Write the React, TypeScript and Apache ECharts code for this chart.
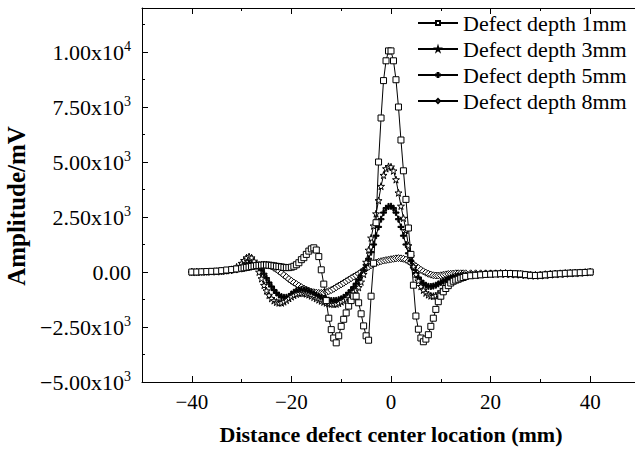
import React, { useEffect, useRef } from "react";
import * as echarts from "echarts";

// Distance from defect center (mm)
const distance = [
  -40, -39, -38, -37, -36, -35, -34, -33, -32, -31,
  -30, -29.5, -29, -28.5, -28, -27.5, -27, -26.5, -26, -25.5,
  -25, -24.5, -24, -23.5, -23, -22.5, -22, -21.5, -21, -20.5,
  -20, -19.5, -19, -18.5, -18, -17.5, -17, -16.5, -16, -15.5,
  -15, -14.5, -14, -13.5, -13, -12.5, -12, -11.5, -11, -10.5,
  -10, -9.5, -9, -8.5, -8, -7.5, -7, -6.5, -6, -5.5,
  -5, -4.5, -4, -3.5, -3, -2.5, -2, -1.5, -1, -0.5,
  0, 0.5, 1, 1.5, 2, 2.5, 3, 3.5, 4, 4.5,
  5, 5.5, 6, 6.5, 7, 7.5, 8, 8.5, 9, 9.5,
  10, 10.5, 11, 11.5, 12, 12.5, 13, 13.5, 14, 14.5,
  15, 16, 17, 18, 19, 20, 21, 22, 23, 24, 25, 26, 27, 28, 29, 30,
  31, 32, 33, 34, 35, 36, 37, 38, 39, 40,
];

const depth1mm = [
  0, 0, 10, 20, 30, 40, 60, 90, 110, 140,
  170, 190, 210, 230, 250, 270, 290, 300, 310, 320,
  320, 310, 300, 280, 260, 250, 230, 210, 200, 200,
  220, 260, 330, 420, 560, 650, 800, 950, 1050, 1100,
  1000, 700, 100, -550, -1300, -2100, -2620, -3000, -3220, -2900,
  -2470, -2150, -1860, -1550, -1300, -1100, -1100, -1400, -1900, -2450,
  -2900, -3100, -1100, 400, 2240, 5000, 7000, 8700, 9600, 10050,
  10050, 9600, 8740, 7500, 6000, 4600, 3300, 2000, 800, -600,
  -2000, -2600, -3000, -3170, -3050, -2850, -2470, -2100, -1700, -1350,
  -1100, -900, -750, -620, -500, -420, -370, -330, -280, -250,
  -200, -170, -150, -130, -110, -100, -90, -80, -70, -70, -80, -90, -120, -150, -160, -150,
  -130, -110, -90, -80, -60, -50, -40, -30, -20, 0,
];

const depth3mm = [
  0, 0, 10, 10, 20, 20, 40, 70, 120, 230,
  400, 530, 650, 700, 650, 500, 300, 0, -300, -600,
  -850, -1050, -1200, -1300, -1370, -1400, -1400, -1350, -1280, -1200,
  -1120, -1050, -1000, -960, -950, -960, -990, -1030, -1080, -1140,
  -1200, -1260, -1310, -1360, -1400, -1430, -1450, -1460, -1450, -1420,
  -1350, -1300, -1220, -1120, -1000, -900, -820, -700, -450, -100,
  450, 1000, 1550, 2100, 2650, 3250, 3900, 4400, 4700, 4800,
  4780, 4600, 4200, 3600, 3000, 2450, 1900, 1200, 700, 250,
  -100, -400, -650, -820, -950, -1030, -1080, -1100, -1080, -1000,
  -900, -780, -660, -550, -450, -370, -310, -260, -220, -190,
  -170, -150, -130, -110, -100, -90, -80, -80, -90, -100, -110, -120, -140, -160, -170, -160,
  -140, -120, -100, -90, -80, -60, -50, -40, -20, 0,
];

const depth5mm = [
  0, 0, 0, 10, 20, 30, 40, 60, 80, 120,
  200, 260, 320, 370, 400, 400, 350, 250, 100, -80,
  -280, -480, -660, -820, -950, -1050, -1120, -1150, -1150, -1120,
  -1000, -920, -860, -820, -800, -810, -840, -880, -930, -990,
  -1050, -1110, -1160, -1210, -1250, -1280, -1300, -1300, -1290, -1260,
  -1220, -1150, -1060, -950, -830, -690, -530, -350, -150, 80,
  330, 600, 900, 1250, 1650, 2050, 2400, 2700, 2900, 2980,
  2990, 2900, 2700, 2400, 2050, 1650, 1250, 850, 500, 200,
  -50, -250, -400, -520, -600, -650, -660, -640, -600, -540,
  -480, -420, -360, -310, -270, -230, -200, -180, -160, -150,
  -140, -120, -110, -100, -90, -80, -70, -60, -60, -70, -90, -110, -130, -150, -160, -150,
  -130, -110, -90, -70, -60, -50, -40, -30, -20, 0,
];

const depth8mm = [
  0, 0, 10, 10, 20, 30, 40, 60, 80, 110,
  150, 180, 210, 240, 270, 290, 310, 320, 330, 330,
  320, 290, 250, 190, 120, 40, -50, -140, -230, -320,
  -400, -480, -550, -620, -690, -750, -800, -850, -890, -920,
  -940, -950, -950, -940, -910, -870, -820, -760, -690, -620,
  -560, -490, -420, -350, -280, -210, -150, -80, 0, 80,
  160, 240, 310, 370, 420, 460, 490, 520, 540, 560,
  580, 600, 620, 630, 620, 600, 560, 490, 420, 340,
  260, 180, 100, 30, -30, -80, -120, -150, -160, -160,
  -150, -130, -110, -90, -80, -70, -60, -60, -60, -60,
  -60, -60, -60, -60, -60, -60, -60, -50, -50, -60, -70, -90, -110, -120, -130, -120,
  -100, -80, -70, -60, -50, -40, -30, -20, -10, 0,
];

const seriesNames = [
  "Defect depth 1mm",
  "Defect depth 3mm",
  "Defect depth 5mm",
  "Defect depth 8mm",
];

const xMajorTicks = [-40, -20, 0, 20, 40];
const xMinorTicks = [-30, -10, 10, 30];
const yMajorTicks = [-5000, -2500, 0, 2500, 5000, 7500, 10000];
const yMinorTicks = [-3750, -1250, 1250, 3750, 6250, 8750, 11250];

const SERIF = "'Liberation Serif', 'Times New Roman', serif";
const STAR =
  "path://M50,0 L61,35 L98,35 L68,57 L79,91 L50,70 L21,91 L32,57 L2,35 L39,35 Z";
const PLUS = "path://M4,0 L6,0 L6,4 L10,4 L10,6 L6,6 L6,10 L4,10 L4,6 L0,6 L0,4 L4,4 Z";

function pairs(ys: number[]) {
  return distance.map((x, i) => [x, ys[i]]);
}

function fmtY(v: number) {
  if (v === 0) return "{m|0.00}";
  const neg = v < 0;
  const a = Math.abs(v);
  const exp = a >= 10000 ? 4 : 3;
  const mant = (a / Math.pow(10, exp)).toFixed(2);
  return `{m|${neg ? "\u2212" : ""}${mant}x10}{s|${exp}}`;
}

function fmtX(v: number) {
  return v < 0 ? "\u2212" + Math.abs(v) : String(v);
}

export default function App() {
  const ref = useRef<HTMLDivElement>(null);
  useEffect(() => {
    if (!ref.current) return;
    const chart = echarts.init(ref.current, undefined, { renderer: "svg" });
    const axisLine = { show: true, onZero: false, lineStyle: { color: "#000", width: 1 } };
    const common = { min: -50, max: 50, type: "value" as const, splitLine: { show: false } };
    const yCommon = { min: -5000, max: 12000, type: "value" as const, splitLine: { show: false } };
    const mkSeries = (name: string, ys: number[], symbol: string, size: number, fill: string, z: number) => ({
      name,
      type: "line",
      data: pairs(ys),
      symbol,
      symbolSize: size,
      showAllSymbol: true,
      lineStyle: { color: "#000", width: 1 },
      itemStyle: { color: fill, borderColor: "#000", borderWidth: 1 },
      z,
      emphasis: { disabled: true },
    });
    chart.setOption({
      animation: false,
      grid: { left: 142, right: -5, top: 8, bottom: 70, outerBoundsMode: "none", containLabel: false },
      legend: {
        orient: "vertical",
        left: 412,
        top: 7,
        itemWidth: 40,
        itemHeight: 5,
        itemGap: 4,
        textStyle: { fontFamily: SERIF, fontSize: 22, color: "#000", lineHeight: 22 },
        data: seriesNames,
      },
      xAxis: [
        {
          ...common,
          position: "bottom",
          axisLine,
          axisTick: { show: true, inside: true, length: 6, customValues: xMajorTicks, lineStyle: { color: "#000" } },
          axisLabel: {
            show: true,
            customValues: xMajorTicks,
            formatter: fmtX,
            fontFamily: SERIF,
            fontSize: 21,
            color: "#000",
            margin: 9,
          },
          name: "Distance defect center location (mm)",
          nameLocation: "middle",
          nameGap: 41,
          nameTextStyle: { fontFamily: SERIF, fontSize: 22, fontWeight: "bold", color: "#000" },
        },
        {
          ...common,
          position: "bottom",
          axisLine: { show: false, onZero: false },
          axisTick: { show: true, inside: true, length: 3, customValues: xMinorTicks, lineStyle: { color: "#000" } },
          axisLabel: { show: false },
        },
        {
          ...common,
          position: "top",
          axisLine,
          axisTick: { show: true, inside: true, length: 6, customValues: xMajorTicks, lineStyle: { color: "#000" } },
          axisLabel: { show: false },
        },
        {
          ...common,
          position: "top",
          axisLine: { show: false, onZero: false },
          axisTick: { show: true, inside: true, length: 3, customValues: xMinorTicks, lineStyle: { color: "#000" } },
          axisLabel: { show: false },
        },
      ],
      yAxis: [
        {
          ...yCommon,
          position: "left",
          axisLine,
          axisTick: { show: true, inside: true, length: 6, customValues: yMajorTicks, lineStyle: { color: "#000" } },
          axisLabel: {
            show: true,
            customValues: yMajorTicks,
            formatter: fmtY,
            margin: 11,
            rich: {
              m: { fontFamily: SERIF, fontSize: 22, color: "#000" },
              s: { fontFamily: SERIF, fontSize: 14, color: "#000", padding: [0, 0, 12, 0] },
            },
          },
          name: "Amplitude/mV",
          nameLocation: "middle",
          nameGap: 108,
          nameTextStyle: {
            fontFamily: SERIF,
            fontSize: 25,
            fontWeight: "bold",
            color: "#000",
            padding: [0, 22, 0, 0],
          },
        },
        {
          ...yCommon,
          position: "left",
          axisLine: { show: false, onZero: false },
          axisTick: { show: true, inside: true, length: 3, customValues: yMinorTicks, lineStyle: { color: "#000" } },
          axisLabel: { show: false },
        },
      ],
      series: [
        mkSeries(seriesNames[3], depth8mm, "diamond", 7, "#fff", 2),
        mkSeries(seriesNames[2], depth5mm, PLUS, 6, "#000", 3),
        mkSeries(seriesNames[1], depth3mm, STAR, 7, "#fff", 4),
        mkSeries(seriesNames[0], depth1mm, "rect", 6, "#fff", 5),
      ],
    });
    return () => chart.dispose();
  }, []);
  return (
    <div
      ref={ref}
      style={{ position: "fixed", left: 0, top: 0, width: 635, height: 452, background: "#fff" }}
    />
  );
}
